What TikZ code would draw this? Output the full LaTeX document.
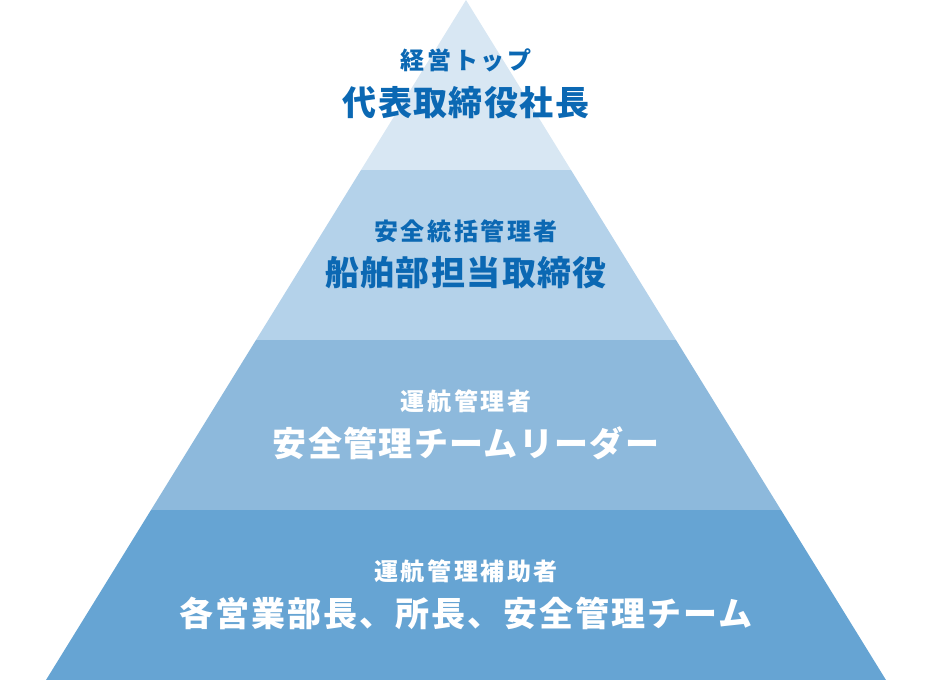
\documentclass[tikz,border=0pt]{standalone}
\usepackage{fontspec}
\newfontfamily\cjk{Noto Sans CJK JP}[LetterSpace=4]
\newfontfamily\cjkw{Noto Sans CJK JP}[LetterSpace=6]
\newfontfamily\cjks{Noto Sans CJK JP}[LetterSpace=11]
\definecolor{tierA}{HTML}{D8E7F3}
\definecolor{tierB}{HTML}{B4D2EA}
\definecolor{tierC}{HTML}{8DB9DC}
\definecolor{tierD}{HTML}{66A4D3}
\definecolor{txtblue}{HTML}{0B68B3}
\tikzset{
  small/.style={font=\cjks\bfseries\fontsize{24}{24}\selectfont, anchor=center, inner sep=0pt},
  big/.style={font=\cjk\bfseries\fontsize{34}{34}\selectfont, anchor=center, inner sep=0pt},
  bigw/.style={font=\cjkw\bfseries\fontsize{34}{34}\selectfont, anchor=center, inner sep=0pt},
}
\begin{document}
\begin{tikzpicture}[x=1pt,y=-1pt]
\useasboundingbox (0,0) rectangle (932,680);
\fill[tierA] (466,0) -- (571,170) -- (361,170) -- cycle;
\fill[tierB] (361,170) -- (571,170) -- (676,340) -- (256,340) -- cycle;
\fill[tierC] (256,340) -- (676,340) -- (781,510) -- (151,510) -- cycle;
\fill[tierD] (151,510) -- (781,510) -- (886,680) -- (46,680) -- cycle;
\node[small, text=txtblue] (t1a) at (466,60) {経営トップ};
\node[big, text=txtblue] (t1b) at (466,103) {代表取締役社長};
\node[small, text=txtblue] (t2a) at (466,231) {安全統括管理者};
\node[big, text=txtblue] (t2b) at (466,273) {船舶部担当取締役};
\node[small, text=white] (t3a) at (466,401) {運航管理者};
\node[big, text=white] (t3b) at (466,443) {安全管理チームリーダー};
\node[small, text=white] (t4a) at (466,571) {運航管理補助者};
\node[bigw, text=white] (t4b) at (466,613) {各営業部長、所長、安全管理チーム};
\end{tikzpicture}
\end{document}
